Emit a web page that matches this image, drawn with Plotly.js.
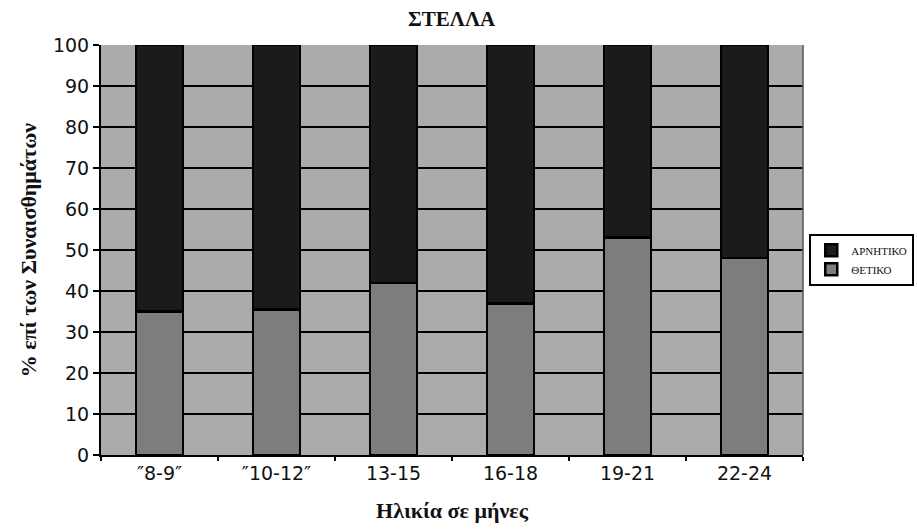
<!DOCTYPE html>
<html>
<head>
<meta charset="utf-8">
<script src="https://cdn.plot.ly/plotly-3.0.1.min.js"></script>
<style>html,body{margin:0;padding:0;background:#fff;}#chart{width:917px;height:531px;}</style>
</head>
<body>
<div id="chart"></div>
<script>
const categories = ["″8-9″", "″10-12″", "13-15", "16-18", "19-21", "22-24"];
const thetiko = [35, 35.5, 42, 37, 53, 48];
const arnitiko = [65, 64.5, 58, 63, 47, 52];
const yTicks = [0, 10, 20, 30, 40, 50, 60, 70, 80, 90, 100];

const serif = "Liberation Serif, DejaVu Serif, serif";
const sans = "DejaVu Sans, Noto Sans, sans-serif";

const traces = [
  {type: "bar", name: "ΘΕΤΙΚΟ", x: categories, y: thetiko,
   marker: {color: "#7d7d7d", line: {color: "#000", width: 2.5}}},
  {type: "bar", name: "ΑΡΝΗΤΙΚΟ", x: categories, y: arnitiko,
   marker: {color: "#1b1b1b", line: {color: "#000", width: 2.5}}}
];

const layout = {
  width: 917, height: 531,
  margin: {l: 101, r: 114, t: 45, b: 76, autoexpand: false},
  paper_bgcolor: "#fff",
  plot_bgcolor: "#ababab",
  barmode: "stack",
  bargap: 0.6,
  title: {text: "<b>ΣΤΕΛΛΑ</b>", font: {family: serif, size: 21, color: "#111"},
          x: 0.4925, xanchor: "center", y: 0.965, yanchor: "middle"},
  xaxis: {
    title: {text: "<b>Ηλικία σε μήνες</b>", font: {family: serif, size: 22, color: "#111"}, standoff: 20},
    tickfont: {family: sans, size: 19, color: "#111"},
    showline: true, linecolor: "#000", linewidth: 2, mirror: false,
    ticks: "outside", tickson: "boundaries", ticklen: 4, tickwidth: 2, tickcolor: "#000",
    showgrid: false, automargin: false
  },
  yaxis: {
    title: {text: "<b>% επί των Συναισθημάτων</b>", font: {family: serif, size: 22, color: "#111"}, standoff: 10},
    tickfont: {family: sans, size: 19, color: "#111"},
    range: [0, 100], tickvals: yTicks, ticktext: yTicks.map(String),
    showline: true, linecolor: "#000", linewidth: 2,
    ticks: "outside", ticklen: 6, tickwidth: 2, tickcolor: "#000",
    showgrid: true, gridcolor: "#000", gridwidth: 2, zeroline: false, automargin: false
  },
  shapes: [
    {type: "line", xref: "paper", yref: "paper", x0: 1, x1: 1, y0: 0, y1: 1,
     line: {color: "#555", width: 1.5}}
  ],
  legend: {
    x: 1.1585, xanchor: "right", y: 0.476, yanchor: "middle",
    traceorder: "reversed",
    bordercolor: "#000", borderwidth: 2, bgcolor: "#fff",
    font: {family: serif, size: 11, color: "#111"},
    itemwidth: 30, tracegroupgap: 0
  },
  showlegend: true
};

Plotly.newPlot("chart", traces, layout, {displayModeBar: false, responsive: false});
</script>
</body>
</html>
